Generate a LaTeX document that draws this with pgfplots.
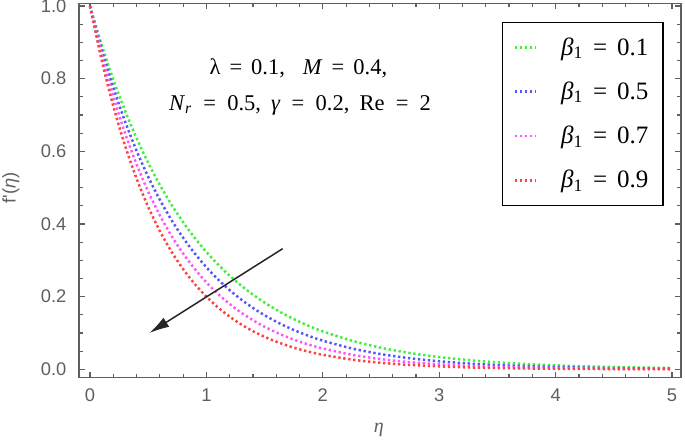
\documentclass[border=0pt]{standalone}
\usepackage{pgfplots}
\pgfplotsset{compat=1.18}
\usepackage{pgfplotstable}
\usepackage{fontspec}
\setmainfont{Liberation Serif}
\newfontfamily\arial{Liberation Sans}
\usetikzlibrary{arrows.meta}
\definecolor{framegray}{RGB}{95,95,95}
\definecolor{cgreen}{RGB}{60,240,60}
\definecolor{cblue}{RGB}{85,85,255}
\definecolor{cmag}{RGB}{255,85,255}
\definecolor{cred}{RGB}{255,65,65}

\pgfplotstableread{
eta g b m r
0 1 1 1 1
0.1 0.8932 0.8807 0.8668 0.8513
0.2 0.7977 0.7757 0.7513 0.7247
0.3 0.7125 0.6832 0.6512 0.6169
0.4 0.6364 0.6017 0.5644 0.5252
0.5 0.5684 0.5299 0.4892 0.4471
0.6 0.5076 0.4667 0.4240 0.3806
0.7 0.4534 0.4111 0.3675 0.3240
0.8 0.4050 0.3621 0.3186 0.2758
0.9 0.3617 0.3189 0.2761 0.2348
1.0 0.3230 0.2808 0.2393 0.1999
1.1 0.2885 0.2473 0.2074 0.1702
1.2 0.2577 0.2178 0.1798 0.1449
1.3 0.2302 0.1919 0.1558 0.1233
1.4 0.2056 0.1690 0.1351 0.1050
1.5 0.1836 0.1488 0.1171 0.0894
1.6 0.1640 0.1311 0.1015 0.0761
1.7 0.1465 0.1154 0.0880 0.0648
1.8 0.1308 0.1017 0.0762 0.0551
1.9 0.1168 0.0896 0.0661 0.0469
2.0 0.1044 0.0789 0.0573 0.0400
2.25 0.0787 0.0574 0.0401 0.0267
2.5 0.0593 0.0418 0.0280 0.0179
2.75 0.0447 0.0304 0.0196 0.0120
3.0 0.0337 0.0222 0.0137 0.0080
3.25 0.0254 0.0161 0.0096 0.0053
3.5 0.0192 0.0117 0.0067 0.0036
3.75 0.0144 0.0086 0.0047 0.0024
4.0 0.0109 0.0062 0.0033 0.0016
4.25 0.0082 0.0045 0.0023 0.0011
4.5 0.0062 0.0033 0.0016 0.0007
4.75 0.0047 0.0024 0.0011 0.0005
5.0 0.0035 0.0018 0.0008 0.0003
}\data

\begin{document}
\begin{tikzpicture}
\useasboundingbox (-47.4pt,-41pt) rectangle (363.6pt,226.6pt);
\begin{axis}[
  at={(0,0)}, anchor=south west,
  scale only axis, width=361.2pt, height=224.6pt,
  xmin=-0.0945, xmax=5.077, ymin=-0.023, ymax=1.0074,
  axis line style={framegray, line width=0.9pt},
  every tick/.style={framegray, line width=0.7pt},
  tick align=inside,
  major tick length=3.6pt, minor tick length=2.2pt,
  xtick={0,1,2,3,4,5}, minor x tick num=4,
  ytick={0,0.2,0.4,0.6,0.8,1.0}, minor y tick num=3,
  yticklabel style={/pgf/number format/fixed, /pgf/number format/fixed zerofill, /pgf/number format/precision=1},
  /pgf/number format/assume math mode=true,
  ticklabel style={font=\arial\fontsize{11}{13}\selectfont, text=framegray},
  xticklabel style={yshift=-3pt},
  yticklabel style={xshift=-4pt},
  xlabel={\textit{η}},
  xlabel style={at={(axis description cs:0.498,-0.139)}, anchor=center, font=\fontsize{12}{14}\selectfont, text=framegray},
  ylabel={\arial f'(\textit{η})},
  ylabel style={at={(axis description cs:-0.113,0.507)}, anchor=center, rotate=0, font=\fontsize{11}{13}\selectfont, text=framegray},
  legend style={at={(axis description cs:0.971,0.951)}, anchor=north east,
     draw=black, line width=0.9pt, font=\fontsize{15}{16}\selectfont,
     row sep=10.5pt, inner xsep=6.6pt, inner ysep=7pt, column sep=12pt,
     cells={anchor=west}},
  mydot/.style={line width=1.5pt, dash pattern=on 1.4pt off 1.6pt, smooth,
     legend image code/.code={\draw[##1] (0pt,0pt) -- (13pt,0pt);}},
]
\addplot[cgreen, mydot] table[x=eta,y=g] {\data};
\addlegendentry{\textit{β}\textsubscript{1}\hspace{0.4em}=\hspace{0.4em}0.1}
\addplot[cblue, mydot] table[x=eta,y=b] {\data};
\addlegendentry{\textit{β}\textsubscript{1}\hspace{0.4em}=\hspace{0.4em}0.5}
\addplot[cmag, mydot] table[x=eta,y=m] {\data};
\addlegendentry{\textit{β}\textsubscript{1}\hspace{0.4em}=\hspace{0.4em}0.7}
\addplot[cred, mydot] table[x=eta,y=r] {\data};
\addlegendentry{\textit{β}\textsubscript{1}\hspace{0.4em}=\hspace{0.4em}0.9}
\draw[-{Latex[length=12pt,width=6.5pt]}, line width=0.9pt, black!85] (axis cs:1.655,0.332) -- (axis cs:0.51,0.10);
\node[font=\fontsize{13.5}{15}\selectfont] at (axis cs:1.79,0.829) {λ\hspace{0.4em}=\hspace{0.4em}0.1,\hspace{0.8em}\textit{M}\hspace{0.4em}=\hspace{0.4em}0.4,};
\node[font=\fontsize{13.5}{15}\selectfont] at (axis cs:1.804,0.7275) {\textit{N}\textsubscript{\textit{r}}\hspace{0.5em}=\hspace{0.5em}0.5,\hspace{0.45em}\textit{γ}\hspace{0.5em}=\hspace{0.5em}0.2,\hspace{0.45em}Re\hspace{0.5em}=\hspace{0.5em}2};
\end{axis}
\end{tikzpicture}
\end{document}
